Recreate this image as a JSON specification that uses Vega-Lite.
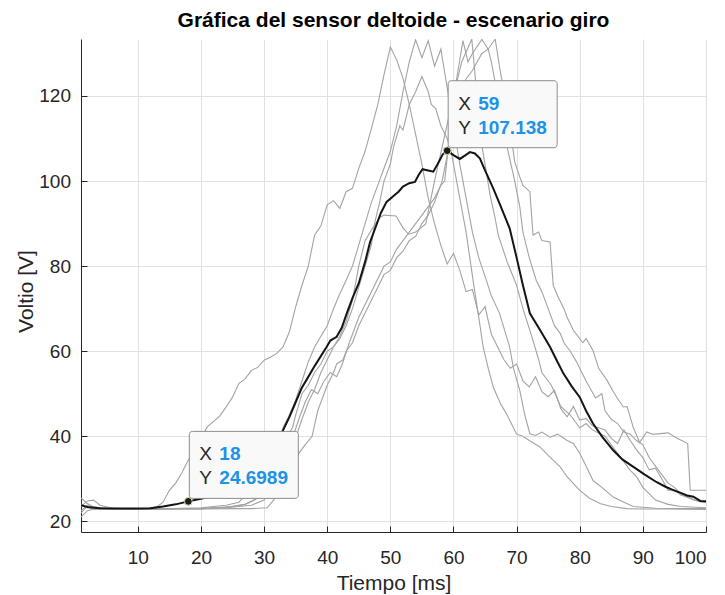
{
  "$schema": "https://vega.github.io/schema/vega-lite/v6.json",
  "width": 625,
  "height": 493,
  "autosize": {"type": "none"},
  "padding": {"left": 81, "top": 39, "right": 19, "bottom": 63},
  "background": "white",
  "config": {"view": {"stroke": null}, "font": "Liberation Sans"},
  "title": {"text": "Gráfica del sensor deltoide - escenario giro", "font": "Liberation Sans", "fontSize": 21, "fontWeight": "bold", "color": "#000000", "anchor": "middle", "offset": 8},
  "datasets": {
    "gray": [
      {"s":"A","x":1,"y":25.5},{"s":"A","x":2,"y":24.2},{"s":"A","x":3,"y":23.4},{"s":"A","x":5,"y":23.0},{"s":"A","x":8,"y":22.8},{"s":"A","x":11,"y":22.9},{"s":"A","x":13,"y":23.4},{"s":"A","x":14,"y":24.5},{"s":"A","x":15,"y":27.3},{"s":"A","x":16,"y":29.0},{"s":"A","x":17,"y":31.5},{"s":"A","x":18,"y":34.4},{"s":"A","x":19,"y":36.5},{"s":"A","x":20,"y":39.5},{"s":"A","x":21,"y":42.2},{"s":"A","x":22,"y":43.5},{"s":"A","x":23,"y":44.8},{"s":"A","x":24,"y":46.9},{"s":"A","x":25,"y":49.2},{"s":"A","x":26,"y":52.4},{"s":"A","x":27,"y":53.5},{"s":"A","x":28,"y":55.5},{"s":"A","x":29,"y":56.2},{"s":"A","x":30,"y":57.9},{"s":"A","x":31,"y":58.6},{"s":"A","x":32,"y":59.5},{"s":"A","x":33,"y":61.0},{"s":"A","x":34,"y":64.5},{"s":"A","x":35,"y":70.4},{"s":"A","x":36,"y":75.5},{"s":"A","x":37,"y":80.0},{"s":"A","x":38,"y":87.3},{"s":"A","x":39,"y":89.5},{"s":"A","x":40,"y":94.4},{"s":"A","x":41,"y":95.4},{"s":"A","x":42,"y":93.6},{"s":"A","x":43,"y":97.5},{"s":"A","x":44,"y":98.3},{"s":"A","x":45,"y":103},{"s":"A","x":46,"y":107},{"s":"A","x":47,"y":112.4},{"s":"A","x":48,"y":117.9},{"s":"A","x":49,"y":125},{"s":"A","x":50,"y":131.5},{"s":"A","x":51,"y":128.5},{"s":"A","x":52,"y":124.2},{"s":"A","x":53,"y":118},{"s":"A","x":54,"y":111},{"s":"A","x":55,"y":104},{"s":"A","x":56,"y":96},{"s":"A","x":57,"y":90},{"s":"A","x":58,"y":84.9},{"s":"A","x":59,"y":80.5},{"s":"A","x":60,"y":83},{"s":"A","x":61,"y":79},{"s":"A","x":62,"y":74},{"s":"A","x":63,"y":74.5},{"s":"A","x":64,"y":68.5},{"s":"A","x":65,"y":70.5},{"s":"A","x":66,"y":64},{"s":"A","x":67,"y":61},{"s":"A","x":68,"y":58},{"s":"A","x":69,"y":56},{"s":"A","x":70,"y":57},{"s":"A","x":71,"y":53},{"s":"A","x":72,"y":51.6},{"s":"A","x":73,"y":54},{"s":"A","x":74,"y":50.5},{"s":"A","x":75,"y":49.3},{"s":"A","x":76,"y":50.8},{"s":"A","x":77,"y":46.5},{"s":"A","x":78,"y":44.6},{"s":"A","x":79,"y":47},{"s":"A","x":80,"y":43.8},{"s":"A","x":81,"y":44.2},{"s":"A","x":82,"y":42.5},{"s":"A","x":83,"y":42},{"s":"A","x":84,"y":41.5},{"s":"A","x":85,"y":39.5},{"s":"A","x":86,"y":38.3},{"s":"A","x":87,"y":41.5},{"s":"A","x":88,"y":39},{"s":"A","x":89,"y":36.8},{"s":"A","x":90,"y":35},{"s":"A","x":91,"y":32.1},{"s":"A","x":92,"y":32.5},{"s":"A","x":93,"y":30},{"s":"A","x":94,"y":27.3},{"s":"A","x":95,"y":27.5},{"s":"A","x":96,"y":26.2},{"s":"A","x":97,"y":25.7},{"s":"A","x":98,"y":25.2},{"s":"A","x":99,"y":24.6},{"s":"A","x":100,"y":24.5},

      {"s":"B","x":1,"y":22.0},{"s":"B","x":2,"y":23.5},{"s":"B","x":3,"y":22.8},{"s":"B","x":6,"y":23.0},{"s":"B","x":10,"y":22.8},{"s":"B","x":15,"y":23.0},{"s":"B","x":20,"y":23.2},{"s":"B","x":24,"y":23.8},{"s":"B","x":26,"y":24.5},{"s":"B","x":27,"y":26},{"s":"B","x":28,"y":27.5},{"s":"B","x":29,"y":29},{"s":"B","x":30,"y":31},{"s":"B","x":31,"y":34},{"s":"B","x":32,"y":37.5},{"s":"B","x":33,"y":42},{"s":"B","x":34,"y":45},{"s":"B","x":35,"y":48.5},{"s":"B","x":36,"y":53},{"s":"B","x":37,"y":57.5},{"s":"B","x":38,"y":61},{"s":"B","x":39,"y":63.5},{"s":"B","x":40,"y":66},{"s":"B","x":41,"y":70},{"s":"B","x":42,"y":73.5},{"s":"B","x":43,"y":76.7},{"s":"B","x":44,"y":80},{"s":"B","x":45,"y":85},{"s":"B","x":46,"y":90},{"s":"B","x":47,"y":95},{"s":"B","x":48,"y":99},{"s":"B","x":49,"y":103},{"s":"B","x":50,"y":107},{"s":"B","x":51,"y":113},{"s":"B","x":52,"y":121},{"s":"B","x":53,"y":128},{"s":"B","x":54,"y":133.2},{"s":"B","x":55,"y":129},{"s":"B","x":56,"y":133},{"s":"B","x":57,"y":127},{"s":"B","x":58,"y":131},{"s":"B","x":59,"y":122},{"s":"B","x":60,"y":113},{"s":"B","x":61,"y":104},{"s":"B","x":62,"y":96},{"s":"B","x":63,"y":88},{"s":"B","x":64,"y":82},{"s":"B","x":65.2,"y":76.7},{"s":"B","x":66,"y":73},{"s":"B","x":67.3,"y":68.9},{"s":"B","x":68.9,"y":61},{"s":"B","x":69.5,"y":56},{"s":"B","x":70.5,"y":50.8},{"s":"B","x":71.3,"y":45},{"s":"B","x":72.1,"y":40.6},{"s":"B","x":73,"y":40.2},{"s":"B","x":74,"y":41},{"s":"B","x":75.3,"y":39.8},{"s":"B","x":76.5,"y":40.5},{"s":"B","x":78,"y":39},{"s":"B","x":79,"y":38.3},{"s":"B","x":80,"y":36},{"s":"B","x":81,"y":33},{"s":"B","x":82.1,"y":29.6},{"s":"B","x":83.5,"y":28},{"s":"B","x":85.3,"y":25.7},{"s":"B","x":87,"y":24.5},{"s":"B","x":88.5,"y":23.5},{"s":"B","x":92,"y":23.1},{"s":"B","x":96,"y":23.0},{"s":"B","x":100,"y":23.0},

      {"s":"C","x":1,"y":23.5},{"s":"C","x":2,"y":24.8},{"s":"C","x":3,"y":25},{"s":"C","x":4,"y":23.8},{"s":"C","x":6,"y":23.1},{"s":"C","x":10,"y":22.9},{"s":"C","x":15,"y":22.9},{"s":"C","x":20,"y":23.0},{"s":"C","x":25,"y":23.5},{"s":"C","x":27,"y":24},{"s":"C","x":28.5,"y":25},{"s":"C","x":30,"y":27},{"s":"C","x":31,"y":30},{"s":"C","x":32,"y":34},{"s":"C","x":33,"y":37.5},{"s":"C","x":33.6,"y":40},{"s":"C","x":34.5,"y":42},{"s":"C","x":35,"y":45},{"s":"C","x":36,"y":50},{"s":"C","x":37,"y":52},{"s":"C","x":38,"y":55},{"s":"C","x":39,"y":57},{"s":"C","x":40,"y":60},{"s":"C","x":41,"y":61},{"s":"C","x":42,"y":63.5},{"s":"C","x":43,"y":67},{"s":"C","x":44,"y":72},{"s":"C","x":45,"y":80},{"s":"C","x":46,"y":86},{"s":"C","x":47,"y":88.5},{"s":"C","x":48.3,"y":91.4},{"s":"C","x":49,"y":92},{"s":"C","x":50.9,"y":91.8},{"s":"C","x":52,"y":89},{"s":"C","x":52.9,"y":87.5},{"s":"C","x":54,"y":88},{"s":"C","x":55.6,"y":89.9},{"s":"C","x":57,"y":100},{"s":"C","x":58.5,"y":110},{"s":"C","x":60,"y":120},{"s":"C","x":61.3,"y":128},{"s":"C","x":62.2,"y":131},{"s":"C","x":62.9,"y":133.4},{"s":"C","x":63.6,"y":122},{"s":"C","x":64.2,"y":110.8},{"s":"C","x":65,"y":104},{"s":"C","x":65.8,"y":96.7},{"s":"C","x":66.5,"y":92},{"s":"C","x":67.1,"y":87.3},{"s":"C","x":68.5,"y":81},{"s":"C","x":70,"y":75.5},{"s":"C","x":71,"y":70},{"s":"C","x":72.5,"y":63},{"s":"C","x":73.5,"y":58},{"s":"C","x":74,"y":55},{"s":"C","x":75.5,"y":52},{"s":"C","x":77,"y":47},{"s":"C","x":78.5,"y":45},{"s":"C","x":80,"y":42},{"s":"C","x":81,"y":43},{"s":"C","x":82,"y":41.5},{"s":"C","x":84,"y":40},{"s":"C","x":85,"y":38},{"s":"C","x":86,"y":36},{"s":"C","x":88,"y":32},{"s":"C","x":89,"y":30.5},{"s":"C","x":90,"y":28},{"s":"C","x":92,"y":25},{"s":"C","x":94,"y":24},{"s":"C","x":96,"y":23.5},{"s":"C","x":100,"y":23.2},

      {"s":"D","x":1,"y":24.0},{"s":"D","x":2,"y":23.2},{"s":"D","x":4,"y":22.9},{"s":"D","x":8,"y":23.0},{"s":"D","x":12,"y":23.0},{"s":"D","x":16,"y":23.0},{"s":"D","x":20,"y":23.0},{"s":"D","x":24,"y":23.2},{"s":"D","x":28,"y":23.8},{"s":"D","x":30,"y":25},{"s":"D","x":31,"y":27},{"s":"D","x":32,"y":30},{"s":"D","x":33,"y":33.5},{"s":"D","x":34,"y":37},{"s":"D","x":34.6,"y":40},{"s":"D","x":35.5,"y":44},{"s":"D","x":36.5,"y":48},{"s":"D","x":37.5,"y":51},{"s":"D","x":38.5,"y":50},{"s":"D","x":39.5,"y":53},{"s":"D","x":40.5,"y":55},{"s":"D","x":41.5,"y":54},{"s":"D","x":42.4,"y":57},{"s":"D","x":43.5,"y":62},{"s":"D","x":45,"y":68},{"s":"D","x":46,"y":71},{"s":"D","x":47,"y":74},{"s":"D","x":48,"y":77},{"s":"D","x":49,"y":80},{"s":"D","x":50,"y":81},{"s":"D","x":51,"y":84},{"s":"D","x":52,"y":86},{"s":"D","x":53,"y":88},{"s":"D","x":54,"y":90},{"s":"D","x":55,"y":92},{"s":"D","x":56,"y":94},{"s":"D","x":57,"y":96},{"s":"D","x":58,"y":99},{"s":"D","x":58.6,"y":100},{"s":"D","x":59.5,"y":112},{"s":"D","x":60.5,"y":124},{"s":"D","x":61.5,"y":133},{"s":"D","x":62.3,"y":128},{"s":"D","x":63,"y":130},{"s":"D","x":64.5,"y":133.3},{"s":"D","x":65.5,"y":131},{"s":"D","x":66,"y":128},{"s":"D","x":67,"y":120},{"s":"D","x":67.5,"y":115},{"s":"D","x":68.5,"y":108},{"s":"D","x":69.7,"y":100},{"s":"D","x":70.5,"y":94},{"s":"D","x":71,"y":88},{"s":"D","x":72,"y":82},{"s":"D","x":73.1,"y":76.7},{"s":"D","x":74,"y":74},{"s":"D","x":75,"y":70},{"s":"D","x":76,"y":66},{"s":"D","x":76.9,"y":64.2},{"s":"D","x":77.5,"y":62},{"s":"D","x":78.5,"y":60},{"s":"D","x":79.5,"y":57.5},{"s":"D","x":80,"y":56},{"s":"D","x":81,"y":53},{"s":"D","x":82.5,"y":49},{"s":"D","x":83.5,"y":50},{"s":"D","x":84,"y":46},{"s":"D","x":85,"y":44},{"s":"D","x":86,"y":43},{"s":"D","x":87,"y":41},{"s":"D","x":88,"y":40.5},{"s":"D","x":89,"y":39},{"s":"D","x":90,"y":38},{"s":"D","x":91,"y":35},{"s":"D","x":92.5,"y":32},{"s":"D","x":93.5,"y":30},{"s":"D","x":94,"y":29},{"s":"D","x":95,"y":28},{"s":"D","x":96,"y":26.5},{"s":"D","x":98,"y":25},{"s":"D","x":100,"y":24.4},

      {"s":"E","x":1,"y":22.5},{"s":"E","x":2,"y":23.8},{"s":"E","x":3,"y":23},{"s":"E","x":6,"y":23},{"s":"E","x":10,"y":23},{"s":"E","x":15,"y":22.9},{"s":"E","x":20,"y":22.9},{"s":"E","x":25,"y":23},{"s":"E","x":28,"y":23},{"s":"E","x":30.5,"y":23.2},{"s":"E","x":31.5,"y":25},{"s":"E","x":32.5,"y":28},{"s":"E","x":33.5,"y":30.5},{"s":"E","x":34,"y":32},{"s":"E","x":35,"y":34},{"s":"E","x":35.5,"y":36},{"s":"E","x":36.5,"y":38},{"s":"E","x":37.6,"y":40},{"s":"E","x":38.5,"y":46},{"s":"E","x":39,"y":48},{"s":"E","x":40,"y":52},{"s":"E","x":41,"y":55},{"s":"E","x":41.5,"y":57},{"s":"E","x":42.5,"y":58},{"s":"E","x":43,"y":60},{"s":"E","x":44,"y":62},{"s":"E","x":45,"y":66},{"s":"E","x":46,"y":69},{"s":"E","x":47,"y":72},{"s":"E","x":48,"y":75},{"s":"E","x":49,"y":78},{"s":"E","x":50,"y":79},{"s":"E","x":51,"y":82},{"s":"E","x":52,"y":83.5},{"s":"E","x":53,"y":86},{"s":"E","x":54,"y":87},{"s":"E","x":55,"y":90},{"s":"E","x":56,"y":92},{"s":"E","x":57,"y":95},{"s":"E","x":58.2,"y":100},{"s":"E","x":59,"y":106},{"s":"E","x":60,"y":113},{"s":"E","x":61,"y":120},{"s":"E","x":62,"y":124},{"s":"E","x":63,"y":126},{"s":"E","x":64.5,"y":130},{"s":"E","x":65.5,"y":131},{"s":"E","x":66.6,"y":133.4},{"s":"E","x":67.5,"y":125},{"s":"E","x":68.4,"y":118.7},{"s":"E","x":69.7,"y":104.5},{"s":"E","x":70.5,"y":101},{"s":"E","x":71,"y":99},{"s":"E","x":72.1,"y":97.5},{"s":"E","x":72.6,"y":87.3},{"s":"E","x":73.5,"y":88},{"s":"E","x":74,"y":86},{"s":"E","x":75.3,"y":85.7},{"s":"E","x":75.8,"y":75.5},{"s":"E","x":76.5,"y":73},{"s":"E","x":77.5,"y":70},{"s":"E","x":78,"y":68},{"s":"E","x":79,"y":64.9},{"s":"E","x":80.5,"y":62},{"s":"E","x":81,"y":63},{"s":"E","x":82.1,"y":60.2},{"s":"E","x":83,"y":56},{"s":"E","x":84.3,"y":53.2},{"s":"E","x":85.5,"y":50},{"s":"E","x":86.9,"y":46.9},{"s":"E","x":87.5,"y":47},{"s":"E","x":88.5,"y":42},{"s":"E","x":89.5,"y":38.5},{"s":"E","x":90.6,"y":41},{"s":"E","x":91.5,"y":40.5},{"s":"E","x":92,"y":40.5},{"s":"E","x":94,"y":40.8},{"s":"E","x":95.5,"y":39.5},{"s":"E","x":97.1,"y":38.3},{"s":"E","x":97.5,"y":27.3},{"s":"E","x":100,"y":27.3},

      {"s":"F","x":1,"y":21.0},{"s":"F","x":2,"y":22.5},{"s":"F","x":4,"y":23.2},{"s":"F","x":8,"y":23.0},{"s":"F","x":12,"y":22.8},{"s":"F","x":16,"y":23.0},{"s":"F","x":20,"y":23.0},{"s":"F","x":24,"y":23.3},{"s":"F","x":27,"y":24},{"s":"F","x":29,"y":25.5},{"s":"F","x":30,"y":27},{"s":"F","x":31,"y":29},{"s":"F","x":32,"y":31.5},{"s":"F","x":33,"y":34},{"s":"F","x":34,"y":37},{"s":"F","x":35.1,"y":40},{"s":"F","x":36,"y":44},{"s":"F","x":37,"y":48},{"s":"F","x":38,"y":51},{"s":"F","x":39,"y":55},{"s":"F","x":40,"y":58},{"s":"F","x":41,"y":61},{"s":"F","x":42,"y":63},{"s":"F","x":43,"y":66},{"s":"F","x":44,"y":70},{"s":"F","x":45,"y":75},{"s":"F","x":46,"y":80},{"s":"F","x":47,"y":85},{"s":"F","x":47.5,"y":90},{"s":"F","x":48.3,"y":95},{"s":"F","x":49,"y":100},{"s":"F","x":50,"y":104},{"s":"F","x":50.5,"y":108},{"s":"F","x":51.5,"y":113},{"s":"F","x":52,"y":112},{"s":"F","x":53,"y":118},{"s":"F","x":54,"y":121},{"s":"F","x":55,"y":124.6},{"s":"F","x":56,"y":121},{"s":"F","x":56.5,"y":118},{"s":"F","x":57.2,"y":117},{"s":"F","x":58,"y":113},{"s":"F","x":59,"y":110},{"s":"F","x":59.5,"y":108},{"s":"F","x":60.5,"y":100},{"s":"F","x":61,"y":96},{"s":"F","x":62,"y":88},{"s":"F","x":63.1,"y":76.7},{"s":"F","x":64,"y":68},{"s":"F","x":64.7,"y":61},{"s":"F","x":65.5,"y":56},{"s":"F","x":66.3,"y":51.6},{"s":"F","x":67.5,"y":47.5},{"s":"F","x":68.5,"y":45},{"s":"F","x":70,"y":40.5},{"s":"F","x":71,"y":40},{"s":"F","x":72,"y":39},{"s":"F","x":73.7,"y":37.5},{"s":"F","x":75,"y":35.5},{"s":"F","x":76.9,"y":32.8},{"s":"F","x":78,"y":30.5},{"s":"F","x":80,"y":27.3},{"s":"F","x":81.5,"y":25.5},{"s":"F","x":83.2,"y":24.2},{"s":"F","x":85,"y":23.5},{"s":"F","x":87.4,"y":23},{"s":"F","x":90,"y":22.9},{"s":"F","x":95,"y":22.9},{"s":"F","x":100,"y":22.8}
    ],
    "mean": [
      {"x":1,"y":23.8},{"x":2,"y":23.4},{"x":4,"y":23.1},{"x":6,"y":23.0},{"x":8,"y":23.0},{"x":10,"y":23.0},{"x":12,"y":23.1},{"x":14,"y":23.5},{"x":16,"y":24.0},{"x":18,"y":24.6989},{"x":20,"y":25.3},{"x":22,"y":26.0},{"x":24,"y":27.0},{"x":26,"y":28.0},{"x":28,"y":29.5},{"x":29,"y":30.5},{"x":30,"y":32},{"x":31,"y":34.5},{"x":32,"y":37.5},{"x":33,"y":41.4},{"x":34,"y":44.5},{"x":35,"y":48},{"x":36,"y":51.5},{"x":36.7,"y":53.2},{"x":38,"y":56.5},{"x":39.9,"y":61},{"x":40.5,"y":62.5},{"x":41.5,"y":63.4},{"x":42.3,"y":65.5},{"x":43.1,"y":68.9},{"x":44,"y":72.5},{"x":45,"y":76},{"x":46,"y":81},{"x":46.8,"y":85.7},{"x":47.5,"y":88.5},{"x":48.5,"y":92.5},{"x":49.4,"y":95.1},{"x":50.5,"y":96.5},{"x":51.3,"y":97.5},{"x":52,"y":98.7},{"x":53,"y":99.5},{"x":53.9,"y":99.8},{"x":54.5,"y":101.5},{"x":55.1,"y":102.8},{"x":56,"y":102.5},{"x":56.8,"y":102.2},{"x":57.5,"y":104},{"x":58.3,"y":106.3},{"x":59,"y":107.138},{"x":60,"y":106.1},{"x":61,"y":105.2},{"x":61.8,"y":106},{"x":62.6,"y":106.8},{"x":63.4,"y":106.5},{"x":64.2,"y":105.3},{"x":65,"y":102.5},{"x":66.3,"y":98.3},{"x":67.5,"y":94},{"x":68.9,"y":88.9},{"x":70,"y":82},{"x":71,"y":75.5},{"x":72.1,"y":68.9},{"x":73.5,"y":65.5},{"x":75.3,"y":61},{"x":76.3,"y":58},{"x":77.4,"y":54.8},{"x":78.7,"y":51.8},{"x":80,"y":49.2},{"x":81,"y":46},{"x":82.1,"y":43},{"x":83.6,"y":39.8},{"x":85.3,"y":36.7},{"x":86.8,"y":34.5},{"x":88.5,"y":32.8},{"x":90.3,"y":31},{"x":92.2,"y":29.2},{"x":93.5,"y":28.2},{"x":94.9,"y":27.3},{"x":96,"y":26.7},{"x":97,"y":26.1},{"x":98,"y":25.8},{"x":99.1,"y":24.8},{"x":100,"y":24.7}
    ],
    "tips": [
      {"x":18,"y":24.6989,"xl":"18","yl":"24.6989"},
      {"x":59,"y":107.138,"xl":"59","yl":"107.138"}
    ]
  },
  "encoding": {
    "x": {"field": "x", "type": "quantitative",
      "scale": {"domain": [1, 100], "nice": false, "zero": false},
      "axis": {"title": "Tiempo [ms]", "values": [10,20,30,40,50,60,70,80,90,100], "grid": true, "gridColor": "#e1e1e1", "gridWidth": 1,
        "domainColor": "#262626", "domainWidth": 1, "tickColor": "#262626", "tickSize": -6, "labelPadding": 22,
        "labelFont": "Liberation Sans", "labelFontSize": 19, "labelColor": "#262626",
        "titleFont": "Liberation Sans", "titleFontSize": 21, "titleFontWeight": "normal", "titleColor": "#262626",
        "titleY": 57, "titleBaseline": "alphabetic"}},
    "y": {"field": "y", "type": "quantitative",
      "scale": {"domain": [17.5, 133.4], "nice": false, "zero": false},
      "axis": {"title": "Voltio [V]", "values": [20,40,60,80,100,120], "grid": true, "gridColor": "#e1e1e1", "gridWidth": 1,
        "domainColor": "#262626", "domainWidth": 1, "tickColor": "#262626", "tickSize": -6, "labelPadding": 16.5,
        "labelFont": "Liberation Sans", "labelFontSize": 19, "labelColor": "#262626",
        "titleFont": "Liberation Sans", "titleFontSize": 21, "titleFontWeight": "normal", "titleColor": "#262626",
        "titleX": -49, "titleY": 252, "titleAngle": -90, "titleBaseline": "alphabetic", "titleAlign": "center"}}
  },
  "layer": [
    {"data": {"name": "gray"}, "mark": {"type": "line", "color": "#a3a3a3", "strokeWidth": 1.1, "clip": true},
     "encoding": {"detail": {"field": "s", "type": "nominal"}}},
    {"data": {"name": "mean"}, "mark": {"type": "line", "color": "#141414", "strokeWidth": 2, "clip": true},
     "encoding": {}},
    {"data": {"name": "tips"}, "mark": {"type": "rect", "fill": "#f9f9f9", "stroke": "#8c8c8c", "strokeWidth": 1, "cornerRadius": 3, "xOffset": 1, "x2Offset": 110, "yOffset": -70, "y2Offset": -3},
     "encoding": {"x2": {"field": "x"}, "y2": {"field": "y"}}},
    {"data": {"name": "tips"}, "mark": {"type": "point", "filled": true, "size": 60, "fill": "#1c1c12", "stroke": "#d9d9b8", "strokeWidth": 1, "opacity": 1},
     "encoding": {}},
    {"data": {"name": "tips"}, "mark": {"type": "text", "text": "X", "align": "left", "baseline": "alphabetic", "dx": 11, "dy": -41, "font": "Liberation Sans", "fontSize": 19, "color": "#262626"},
     "encoding": {}},
    {"data": {"name": "tips"}, "mark": {"type": "text", "text": "Y", "align": "left", "baseline": "alphabetic", "dx": 11, "dy": -17, "font": "Liberation Sans", "fontSize": 19, "color": "#262626"},
     "encoding": {}},
    {"data": {"name": "tips"}, "mark": {"type": "text", "align": "left", "baseline": "alphabetic", "dx": 31, "dy": -41, "font": "Liberation Sans", "fontSize": 19, "fontWeight": "bold", "color": "#1b93e6"},
     "encoding": {"text": {"field": "xl", "type": "nominal"}}},
    {"data": {"name": "tips"}, "mark": {"type": "text", "align": "left", "baseline": "alphabetic", "dx": 31, "dy": -17, "font": "Liberation Sans", "fontSize": 19, "fontWeight": "bold", "color": "#1b93e6"},
     "encoding": {"text": {"field": "yl", "type": "nominal"}}}
  ]
}
